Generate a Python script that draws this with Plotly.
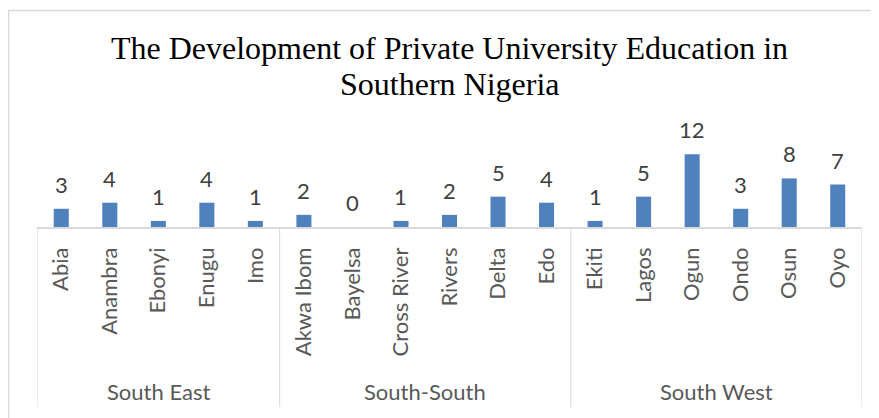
import plotly.graph_objects as go

# Data
regions = ["South East", "South-South", "South West"]
states_se = ["Abia", "Anambra", "Ebonyi", "Enugu", "Imo"]
states_ss = ["Akwa Ibom", "Bayelsa", "Cross River", "Rivers", "Delta", "Edo"]
states_sw = ["Ekiti", "Lagos", "Ogun", "Ondo", "Osun", "Oyo"]
values_se = [3, 4, 1, 4, 1]
values_ss = [2, 0, 1, 2, 5, 4]
values_sw = [1, 5, 12, 3, 8, 7]
title_lines = ["The Development of Private University Education in", "Southern Nigeria"]

groups = [states_se, states_ss, states_sw]
states = states_se + states_ss + states_sw
values = values_se + values_ss + values_sw

BAR = "#4f81bd"
GRID = "#d9d9d9"
FONT = "Lato, 'Open Sans', sans-serif"
SERIF = "'Liberation Serif', 'Times New Roman', serif"

# page body has an 8px margin; figure is offset by 8px
OFF = 8
W, H = 871, 410
base = 227 - OFF          # axis baseline, figure px
L, T = 37 - OFF, 142 - OFF
R = W - L - 825
B = H - base
plot_h = base - T

def py(win_y):
    """window pixel y -> paper y"""
    return (227 - win_y) / plot_h

def px(win_x):
    """window pixel x -> paper x"""
    return (win_x - 37) / 825

fig = go.Figure(go.Bar(
    x=states, y=values, marker_color=BAR, marker_line_width=0,
    hoverinfo="x+y",
))

# data labels
for s, v in zip(states, values):
    fig.add_annotation(x=s, y=v, xref="x", yref="y", text=str(v), showarrow=False,
                       yanchor="bottom", yshift=9,
                       font=dict(family=FONT, size=22, color="#404040"))

# group labels and dividers
start = 0
bounds = [-0.5]
for name, g in zip(regions, groups):
    mid = start + (len(g) - 1) / 2
    fig.add_annotation(x=mid, y=py(391), xref="x", yref="paper",
                       text=name, showarrow=False, yanchor="middle",
                       font=dict(family=FONT, size=22, color="#595959"))
    start += len(g)
    bounds.append(start - 0.5)

for b in bounds:
    fig.add_shape(type="line", xref="x", yref="paper", x0=b, x1=b,
                  y0=0, y1=py(407), line=dict(color=GRID, width=1))

# outer chart border (left and top edges only)
fig.add_shape(type="line", xref="paper", yref="paper",
              x0=px(8.5), x1=px(8.5), y0=py(10.5), y1=py(420),
              line=dict(color=GRID, width=1.5), layer="below")
fig.add_shape(type="line", xref="paper", yref="paper",
              x0=px(8.5), x1=px(880), y0=py(10.5), y1=py(10.5),
              line=dict(color=GRID, width=1.5), layer="below")

# second title line
fig.add_annotation(x=0.5, y=py(84), xref="paper", yref="paper", xanchor="center",
                   yanchor="middle", text=title_lines[1], showarrow=False,
                   font=dict(family=SERIF, size=32, color="#000000"))

fig.update_layout(
    width=W, height=H,
    margin=dict(l=L, r=R, t=T, b=B, pad=0, autoexpand=False),
    paper_bgcolor="white", plot_bgcolor="white",
    showlegend=False,
    bargap=0.69,
    title=dict(text=title_lines[0],
               x=0.5, xref="paper", xanchor="center",
               y=1 - (48 - OFF) / H, yref="container", yanchor="middle",
               font=dict(family=SERIF, size=32, color="#000000")),
    xaxis=dict(type="category", showline=True, linecolor=GRID, linewidth=1.5,
               showgrid=False, ticks="", tickangle=-90, ticklabelstandoff=10,
               automargin=False,
               tickfont=dict(family=FONT, size=22, color="#595959"),
               range=[-0.5, len(states) - 0.5]),
    yaxis=dict(range=[0, 14], visible=False, showgrid=False, zeroline=False, automargin=False),
)

fig.write_html("out.html",
               post_script="document.documentElement.style.overflow='hidden';"
                           "document.body.style.overflow='hidden';")
